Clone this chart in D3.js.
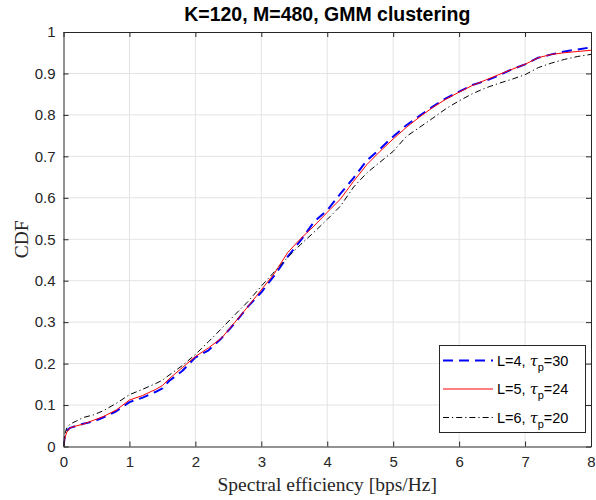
<!DOCTYPE html>
<html>
<head>
<meta charset="utf-8">
<script src="https://cdn.jsdelivr.net/npm/d3@7"></script>
<style>
  body { margin: 0; background: #fff; }
  svg { display: block; }
</style>
</head>
<body>
<div id="chart"></div>
<script>
// spectral efficiency grid (bps/Hz)
const seGrid = [0, 0.02, 0.05, 0.1, 0.2, 0.3, 0.45, 0.6, 0.8, 1.0, 1.2, 1.4, 1.5, 1.6, 1.8,
  2.0, 2.2, 2.4, 2.6, 2.8, 3.0, 3.2, 3.4, 3.6, 3.8, 4.0, 4.2, 4.4, 4.6, 4.8,
  5.0, 5.2, 5.4, 5.6, 5.8, 6.0, 6.2, 6.4, 6.6, 6.8, 7.0, 7.2, 7.4, 7.6, 7.8, 8.0];

// CDF values
const cdfL4 = [0, 0.025, 0.038, 0.045, 0.05, 0.055, 0.06, 0.07, 0.085, 0.107, 0.118, 0.132, 0.14, 0.158, 0.182,
  0.215, 0.232, 0.262, 0.298, 0.338, 0.372, 0.413, 0.458, 0.498, 0.542, 0.57, 0.61, 0.648, 0.69, 0.718,
  0.748, 0.775, 0.798, 0.82, 0.84, 0.856, 0.872, 0.882, 0.895, 0.91, 0.922, 0.938, 0.946, 0.953, 0.958, 0.963];
const cdfL5 = [0, 0.02, 0.035, 0.045, 0.05, 0.054, 0.063, 0.072, 0.088, 0.112, 0.123, 0.138, 0.147, 0.163, 0.19,
  0.217, 0.238, 0.262, 0.3, 0.338, 0.378, 0.418, 0.468, 0.502, 0.532, 0.565, 0.597, 0.64, 0.68, 0.712,
  0.742, 0.77, 0.795, 0.818, 0.838, 0.855, 0.871, 0.884, 0.897, 0.91, 0.922, 0.938, 0.946, 0.95, 0.953, 0.956];
const cdfL6 = [0, 0.03, 0.045, 0.054, 0.062, 0.07, 0.076, 0.086, 0.104, 0.125, 0.138, 0.152, 0.16, 0.172, 0.195,
  0.222, 0.253, 0.285, 0.318, 0.35, 0.387, 0.422, 0.456, 0.488, 0.517, 0.548, 0.58, 0.626, 0.66, 0.686,
  0.712, 0.748, 0.77, 0.792, 0.815, 0.834, 0.851, 0.865, 0.876, 0.886, 0.897, 0.914, 0.925, 0.934, 0.941, 0.946];

const xTicks = [0, 1, 2, 3, 4, 5, 6, 7, 8];
const yTicks = [0, 0.1, 0.2, 0.3, 0.4, 0.5, 0.6, 0.7, 0.8, 0.9, 1];

const series = [
  { L: 4, tau: 30, values: cdfL4, color: "#0000ff", width: 2, dash: "10,6" },
  { L: 5, tau: 24, values: cdfL5, color: "#ff0000", width: 1, dash: null },
  { L: 6, tau: 20, values: cdfL6, color: "#000000", width: 1, dash: "6,3,1.2,3" },
];

const W = 596, H = 500;
const pLeft = 63.5, pRight = 591, pTop = 32, pBottom = 446.5;
const axisColor = "#262626";
const sans = "'Liberation Sans', Arial, Helvetica, sans-serif";
const serif = "'Liberation Serif', 'Times New Roman', serif";

const svg = d3.select("#chart").append("svg")
  .attr("width", W).attr("height", H);

svg.append("rect").attr("width", W).attr("height", H).attr("fill", "#fff");

const x = d3.scaleLinear().domain([0, 8]).range([pLeft, pRight]);
const y = d3.scaleLinear().domain([0, 1]).range([pBottom, pTop]);

// grid
svg.append("g").selectAll("line").data(xTicks.slice(1, -1)).enter().append("line")
  .attr("x1", d => x(d)).attr("x2", d => x(d))
  .attr("y1", pTop).attr("y2", pBottom)
  .attr("stroke", "#e3e3e3").attr("stroke-width", 1);
svg.append("g").selectAll("line").data(yTicks.slice(1, -1)).enter().append("line")
  .attr("y1", d => y(d)).attr("y2", d => y(d))
  .attr("x1", pLeft).attr("x2", pRight)
  .attr("stroke", "#e3e3e3").attr("stroke-width", 1);

// curves
const line = d3.line()
  .x((d, i) => x(seGrid[i]))
  .y(d => y(d));

svg.append("defs").append("clipPath").attr("id", "plotClip")
  .append("rect").attr("x", pLeft).attr("y", pTop)
  .attr("width", pRight - pLeft).attr("height", pBottom - pTop);

const curves = svg.append("g").attr("clip-path", "url(#plotClip)");
series.forEach(s => {
  curves.append("path")
    .datum(s.values)
    .attr("d", line)
    .attr("fill", "none")
    .attr("stroke", s.color)
    .attr("stroke-width", s.width)
    .attr("stroke-dasharray", s.dash)
    .attr("stroke-linejoin", "round");
});

// axes: bottom/left with labels, top/right only ticks (box on)
const tickLen = 5;
const xAxisB = d3.axisBottom(x).tickValues(xTicks).tickSizeInner(-tickLen).tickSizeOuter(0)
  .tickPadding(10).tickFormat(d3.format("d"));
const xAxisT = d3.axisTop(x).tickValues(xTicks).tickSizeInner(-tickLen).tickSizeOuter(0)
  .tickFormat("");
const yAxisL = d3.axisLeft(y).tickValues(yTicks).tickSizeInner(-tickLen).tickSizeOuter(0)
  .tickPadding(8).tickFormat(d => d === 0 || d === 1 ? d3.format("d")(d) : d3.format(".1f")(d));
const yAxisR = d3.axisRight(y).tickValues(yTicks).tickSizeInner(-tickLen).tickSizeOuter(0)
  .tickFormat("");

function styleAxis(g) {
  g.select(".domain").attr("stroke", axisColor);
  g.selectAll(".tick line").attr("stroke", axisColor);
  g.selectAll(".tick text").attr("fill", "#262626")
    .style("font-family", sans).style("font-size", "15px");
}

svg.append("g").attr("transform", `translate(0,${pBottom})`).call(xAxisB).call(styleAxis);
svg.append("g").attr("transform", `translate(0,${pTop})`).call(xAxisT).call(styleAxis);
svg.append("g").attr("transform", `translate(${pLeft},0)`).call(yAxisL).call(styleAxis);
svg.append("g").attr("transform", `translate(${pRight},0)`).call(yAxisR).call(styleAxis);

// title and labels
svg.append("text")
  .attr("x", (pLeft + pRight) / 2).attr("y", 21)
  .attr("text-anchor", "middle")
  .style("font-family", sans).style("font-size", "19.5px").style("font-weight", "bold")
  .attr("fill", "#000")
  .text("K=120, M=480, GMM clustering");

svg.append("text")
  .attr("x", (pLeft + pRight) / 2).attr("y", 491)
  .attr("text-anchor", "middle")
  .style("font-family", serif).style("font-size", "19.5px")
  .attr("fill", "#262626")
  .text("Spectral efficiency [bps/Hz]");

svg.append("text")
  .attr("transform", `translate(28,${(pTop + pBottom) / 2}) rotate(-90)`)
  .attr("text-anchor", "middle")
  .style("font-family", serif).style("font-size", "19.5px")
  .attr("fill", "#262626")
  .text("CDF");

// legend
const lg = svg.append("g");
lg.append("rect")
  .attr("x", 439.5).attr("y", 345.5).attr("width", 146).attr("height", 87)
  .attr("fill", "#fff").attr("stroke", axisColor).attr("stroke-width", 1);

const rowY = d3.scalePoint().domain(series.map(s => s.L)).range([360.5, 417.5]);

series.forEach(s => {
  const yy = rowY(s.L);
  lg.append("line")
    .attr("x1", 443).attr("x2", 493).attr("y1", yy).attr("y2", yy)
    .attr("stroke", s.color).attr("stroke-width", s.width)
    .attr("stroke-dasharray", s.dash);
  const t = lg.append("text")
    .attr("x", 497).attr("y", yy + 5)
    .style("font-family", sans).style("font-size", "14.5px")
    .attr("fill", "#000");
  t.append("tspan").text(`L=${s.L}, `);
  t.append("tspan").style("font-family", "'DejaVu Serif', serif").style("font-style", "italic").text("\u03C4");
  t.append("tspan").attr("dy", 5).style("font-size", "11px").text("p");
  t.append("tspan").attr("dy", -5).text(`=${s.tau}`);
});
</script>
</body>
</html>
